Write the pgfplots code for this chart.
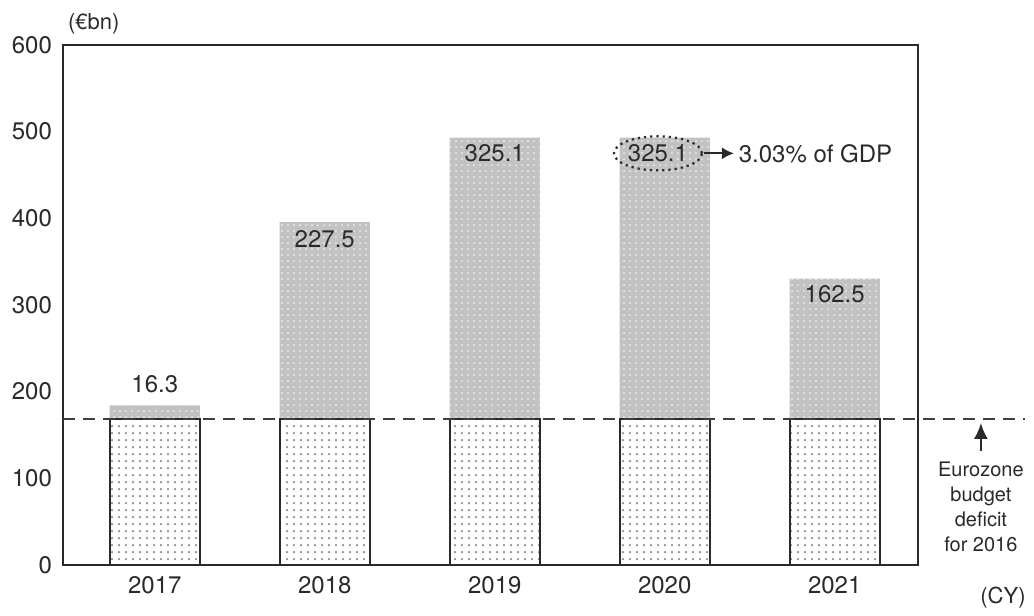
\documentclass[border=0pt]{standalone}
\usepackage{fontspec}
\setmainfont{TeX Gyre Heros}
\usepackage{pgfplots}
\pgfplotsset{compat=1.18}
\usetikzlibrary{patterns.meta,arrows.meta,shapes.geometric}
\definecolor{topgray}{HTML}{C2C2C2}
\definecolor{txt}{HTML}{2A2A2A}
\begin{document}
\begin{tikzpicture}
\begin{axis}[
  scale only axis,
  width=427.5pt, height=260pt,
  ybar stacked,
  bar width=0.53,
  xmin=-0.54, xmax=4.49,
  ymin=0, ymax=600,
  xtick={0,1,2,3,4},
  xticklabels={2017,2018,2019,2020,2021},
  ytick={0,100,200,300,400,500,600},
  major tick length=0pt,
  axis line style={line width=0.9pt, txt},
  tick label style={font=\fontsize{12}{14}\selectfont, text=txt},
  /pgf/number format/assume math mode=true,
  xticklabel style={yshift=-2pt},
  yticklabel style={xshift=-2pt},
  clip=false,
]
% Eurozone budget deficit 2016 (base)
\addplot[fill=white, draw=txt, line width=0.9pt,
  postaction={pattern={Dots[distance=3.5pt,radius=0.6pt]}, pattern color=gray!90}]
  coordinates {(0,168) (1,168) (2,168) (3,168) (4,168)};
% Additional deficit
\addplot[fill=topgray, draw=none,
  postaction={pattern={Dots[distance=3pt,radius=0.45pt]}, pattern color=white!70!topgray}]
  coordinates {(0,16.3) (1,227.5) (2,325.1) (3,325.1) (4,162.5)};

\coordinate (dl) at (axis cs:-0.54,168);
\coordinate (dr) at (axis cs:5.12,168);
\coordinate (l0) at (axis cs:0,209);
\coordinate (l1) at (axis cs:1,376);
\coordinate (l2) at (axis cs:2,475);
\coordinate (l3) at (axis cs:2.96,475);
\coordinate (l4) at (axis cs:4,312);
\coordinate (eb) at (axis cs:4.86,132);
\coordinate (et) at (axis cs:4.86,164);
\coordinate (etx) at (axis cs:4.86,127);
\coordinate (cy) at (axis cs:4.99,-38);
\coordinate (tl) at (rel axis cs:0,1);
\end{axis}
\draw[line width=0.9pt, txt!90, dash pattern=on 6pt off 4pt] (dl) -- (dr);
\node[font=\fontsize{12}{14}\selectfont, text=txt] at (l0) {16.3};
\node[font=\fontsize{12}{14}\selectfont, text=txt] at (l1) {227.5};
\node[font=\fontsize{12}{14}\selectfont, text=txt] at (l2) {325.1};
\node[font=\fontsize{12}{14}\selectfont, text=txt] at (l3) {325.1};
\node[font=\fontsize{12}{14}\selectfont, text=txt] at (l4) {162.5};
\node[ellipse, draw=txt, dotted, line width=1.1pt, minimum width=44pt, minimum height=17pt, inner sep=0pt] at (l3) {};
\draw[-{Latex[length=6pt,width=6pt]}, line width=0.9pt, txt] ([xshift=23pt]l3) -- ([xshift=38pt]l3)
  node[right, font=\fontsize{12}{14}\selectfont, text=txt, inner sep=2pt] {3.03\% of GDP};
\node[font=\fontsize{11}{13}\selectfont, text=txt, anchor=south west, xshift=-1pt, yshift=2pt] at (tl) {(€bn)};
\node[font=\fontsize{11}{13}\selectfont, text=txt] at (cy) {(CY)};
\draw[-{Latex[length=8pt,width=7pt]}, line width=1.2pt, txt] (eb) -- (et);
\node[font=\fontsize{10}{12.5}\selectfont, text=txt, align=center, anchor=north] at (etx)
  {Eurozone\\budget\\deficit\\for 2016};
\path (current axis.south west) ++(-31.5pt,-23.5pt) coordinate (bbl);
\path (bbl) rectangle ++(517pt,306pt);
\end{tikzpicture}
\end{document}
